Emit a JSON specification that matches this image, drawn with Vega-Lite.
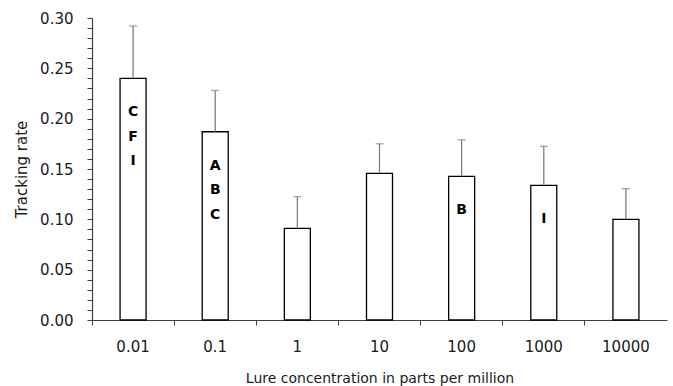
{
  "$schema": "https://vega.github.io/schema/vega-lite/v6.json",
  "width": 575,
  "height": 302,
  "autosize": {"type": "none"},
  "padding": {"left": 92, "top": 18, "right": 6, "bottom": 66},
  "background": "white",
  "config": {
    "view": {"stroke": null},
    "font": "DejaVu Sans",
    "axis": {"grid": false, "domainColor": "#404040", "tickColor": "#404040", "labelColor": "#1a1a1a", "titleColor": "#1a1a1a", "labelFont": "DejaVu Sans", "titleFont": "DejaVu Sans", "titleFontWeight": "normal"}
  },
  "data": {
    "values": [
      {"conc": "0.01", "rate": 0.240, "upper": 0.292, "letters": "C\nF\nI"},
      {"conc": "0.1", "rate": 0.187, "upper": 0.228, "letters": "A\nB\nC"},
      {"conc": "1", "rate": 0.091, "upper": 0.1225, "letters": ""},
      {"conc": "10", "rate": 0.1457, "upper": 0.175, "letters": ""},
      {"conc": "100", "rate": 0.1427, "upper": 0.179, "letters": "B"},
      {"conc": "1000", "rate": 0.1338, "upper": 0.1725, "letters": "I"},
      {"conc": "10000", "rate": 0.100, "upper": 0.1305, "letters": ""}
    ]
  },
  "resolve": {"axis": {"y": "independent"}},
  "encoding": {
    "x": {
      "field": "conc",
      "type": "ordinal",
      "sort": null,
      "scale": {"paddingInner": 0, "paddingOuter": 0},
      "axis": {
        "title": "Lure concentration in parts per million",
        "labelAngle": 0,
        "labelFontSize": 15,
        "titleFontSize": 14,
        "tickSize": 5,
        "tickWidth": 1,
        "domainWidth": 1.2,
        "bandPosition": 0,
        "labelPadding": 14,
        "titlePadding": 17
      }
    }
  },
  "layer": [
    {
      "mark": {"type": "bar", "width": 26, "fill": "white", "stroke": "black", "strokeWidth": 1.3},
      "encoding": {
        "y": {
          "field": "rate",
          "type": "quantitative",
          "scale": {"domain": [0, 0.3], "nice": false, "zero": true},
          "axis": {
            "orient": "left",
            "title": "Tracking rate",
            "titleFontSize": 15,
            "titlePadding": 10,
            "labelFontSize": 15,
            "labelPadding": 14,
            "tickSize": 5,
            "tickWidth": 1,
            "domainWidth": 1.2,
            "labelOverlap": false,
            "labelBound": false,
            "values": [0, 0.01, 0.02, 0.03, 0.04, 0.05, 0.06, 0.07, 0.08, 0.09, 0.1, 0.11, 0.12, 0.13, 0.14, 0.15, 0.16, 0.17, 0.18, 0.19, 0.2, 0.21, 0.22, 0.23, 0.24, 0.25, 0.26, 0.27, 0.28, 0.29, 0.3],
            "labelExpr": "round(datum.value * 100) % 5 == 0 ? format(datum.value, '.2f') : ''"
          }
        }
      }
    },
    {
      "mark": {"type": "rule", "color": "#7f7f7f", "strokeWidth": 1.3},
      "encoding": {
        "y": {"field": "rate", "type": "quantitative", "axis": null},
        "y2": {"field": "upper"}
      }
    },
    {
      "mark": {"type": "tick", "color": "#7f7f7f", "size": 8, "thickness": 1.3, "orient": "horizontal"},
      "encoding": {
        "y": {"field": "upper", "type": "quantitative", "axis": null}
      }
    },
    {
      "transform": [{"filter": "datum.letters != ''"}],
      "mark": {"type": "text", "font": "DejaVu Sans", "fontWeight": "bold", "fontSize": 14, "baseline": "top", "align": "center", "dy": 27, "lineBreak": "\n", "lineHeight": 24.5, "color": "black"},
      "encoding": {
        "y": {"field": "rate", "type": "quantitative", "axis": null},
        "text": {"field": "letters"}
      }
    }
  ]
}
